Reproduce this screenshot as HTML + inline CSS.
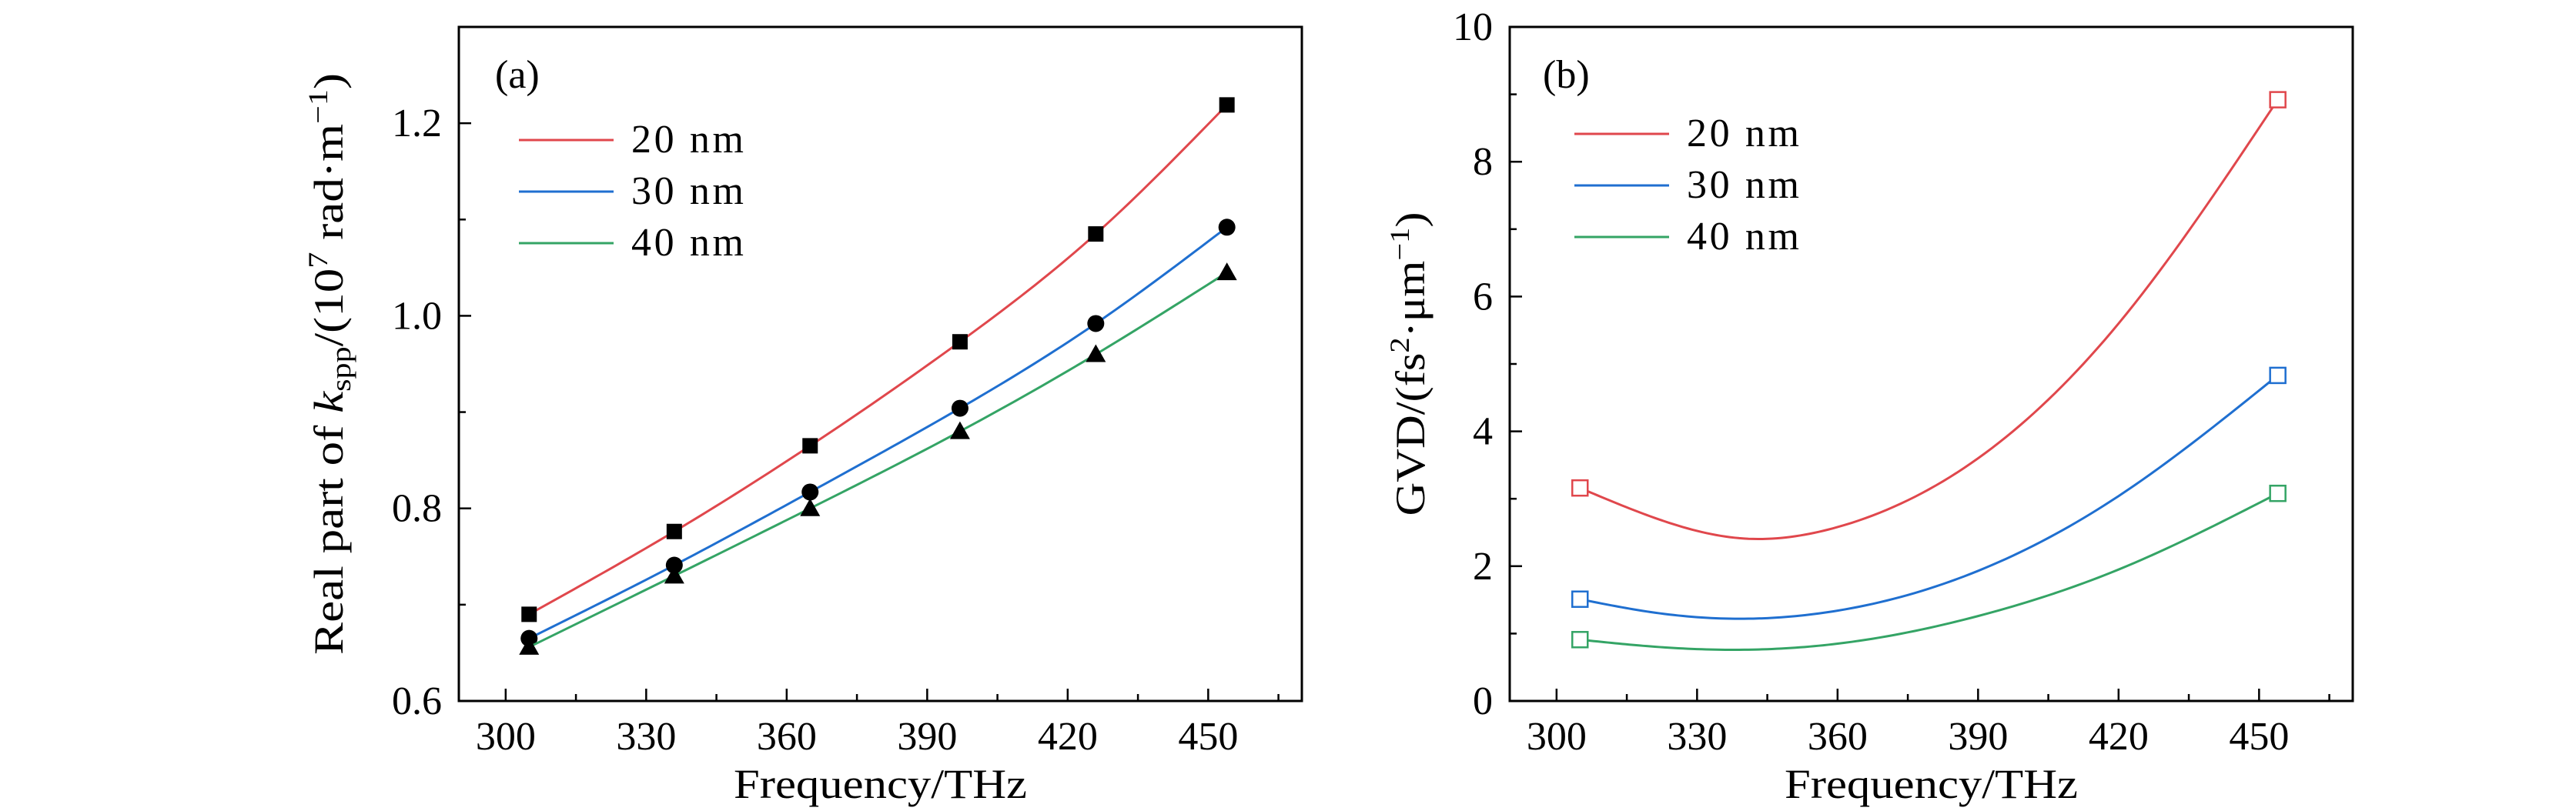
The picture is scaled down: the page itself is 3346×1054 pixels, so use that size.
<!DOCTYPE html>
<html><head><meta charset="utf-8"><style>
html,body{margin:0;padding:0;background:#fff;}
svg{display:block;font-family:"Liberation Serif",serif;}
</style></head><body>
<svg id="fig" width="3346" height="1054" viewBox="0 0 3346 1054" xmlns="http://www.w3.org/2000/svg"></svg>
<script>
const freqA = [305, 336, 365, 397, 426, 454];
const k20 = [0.690, 0.776, 0.865, 0.973, 1.085, 1.219];
const k30 = [0.665, 0.741, 0.817, 0.904, 0.992, 1.092];
const k40 = [0.656, 0.730, 0.800, 0.880, 0.960, 1.045];
const freqB = [305, 320, 340, 360, 390, 420, 454];
const g20 = [3.16, 2.74, 2.41, 2.58, 3.60, 5.60, 8.92];
const g30 = [1.51, 1.32, 1.22, 1.34, 1.93, 3.04, 4.83];
const g40 = [0.91, 0.81, 0.76, 0.85, 1.26, 1.95, 3.08];
const xTicks = [300, 330, 360, 390, 420, 450];
const yTicksA = ["0.6", "0.8", "1.0", "1.2"];
const yTicksB = ["0", "2", "4", "6", "8", "10"];
const seriesNames = ["20 nm", "30 nm", "40 nm"];
const colors = ["#e0474c", "#1f6fd0", "#34a465"];

const NS = "http://www.w3.org/2000/svg";
const svg = document.getElementById("fig");
function mk(tag, attrs, parent, text) {
  const e = document.createElementNS(NS, tag);
  for (const k in attrs) e.setAttribute(k, attrs[k]);
  if (text !== undefined) e.textContent = text;
  (parent || svg).appendChild(e);
  return e;
}
function splinePath(X, Y, xs, ys) {
  const n = X.length;
  const h = [], al = [], l = [1], mu = [0], z = [0], c = new Array(n).fill(0), b = [], d = [];
  for (let i = 0; i < n - 1; i++) h.push(X[i + 1] - X[i]);
  for (let i = 1; i < n - 1; i++) al[i] = 3 / h[i] * (Y[i + 1] - Y[i]) - 3 / h[i - 1] * (Y[i] - Y[i - 1]);
  for (let i = 1; i < n - 1; i++) {
    l[i] = 2 * (X[i + 1] - X[i - 1]) - h[i - 1] * mu[i - 1];
    mu[i] = h[i] / l[i];
    z[i] = (al[i] - h[i - 1] * z[i - 1]) / l[i];
  }
  for (let j = n - 2; j >= 1; j--) c[j] = z[j] - mu[j] * c[j + 1];
  c[0] = 0;
  for (let j = 0; j < n - 1; j++) {
    b[j] = (Y[j + 1] - Y[j]) / h[j] - h[j] * (c[j + 1] + 2 * c[j]) / 3;
    d[j] = (c[j + 1] - c[j]) / (3 * h[j]);
  }
  let dStr = "";
  for (let j = 0; j < n - 1; j++) {
    for (let s = 0; s <= 20; s++) {
      if (j > 0 && s === 0) continue;
      const t = h[j] * s / 20;
      const v = Y[j] + b[j] * t + c[j] * t * t + d[j] * t * t * t;
      dStr += (dStr ? " L" : "M") + xs(X[j] + t).toFixed(2) + "," + ys(v).toFixed(2);
    }
  }
  return dStr;
}

function panel(cfg) {
  const g = mk("g", {});
  
  
  const L = cfg.left, R = cfg.right, T = 35, B = 911;
  const xs = v => L + (v - 290) / 180 * (R - L);
  const ys = v => B - (v - cfg.ymin) / (cfg.ymax - cfg.ymin) * (B - T);
  for (let v = 300; v <= 465; v += 15) {
    const major = (v % 30 === 0);
    const t = mk("line", {x1: xs(v), x2: xs(v), y1: B, y2: B - (major ? 16 : 9), stroke: "#000", "stroke-width": 2.5}, g);
    
    
  }
  xTicks.forEach(v => {
    const t = mk("text", {x: xs(v), y: 974, "font-size": 52, "text-anchor": "middle"}, g, String(v));
    
    
  });
  for (let v = cfg.ymin; v <= cfg.ymax + 1e-9; v += cfg.minor) {
    const isMaj = Math.abs(Math.round((v - cfg.ymin) / cfg.major) * cfg.major - (v - cfg.ymin)) < 1e-6;
    const t = mk("line", {x1: L, x2: L + (isMaj ? 16 : 9), y1: ys(v), y2: ys(v), stroke: "#000", "stroke-width": 2.5}, g);
    
    
  }
  cfg.yLabels.forEach(s => {
    const t = mk("text", {x: L - 22, y: ys(parseFloat(s)) + 17, "font-size": 52, "text-anchor": "end"}, g, s);
    
    
  });
  const fr = mk("rect", {x: L, y: T, width: R - L, height: B - T, fill: "none", stroke: "#000", "stroke-width": 3}, g);
  
  
  const xt = mk("text", {x: (L + R) / 2, y: 1037, "font-size": 54, "text-anchor": "middle", textLength: 381, lengthAdjust: "spacingAndGlyphs"}, g, "Frequency/THz");
  
  
  const yt = mk("text", {x: 0, y: 0, "font-size": 54, "text-anchor": "middle", textLength: cfg.ytLen, lengthAdjust: "spacingAndGlyphs", transform: "translate(" + cfg.ytx + "," + cfg.yty + ") rotate(-90)"}, g);
  
  
  cfg.yTitle(yt);
  const pl = mk("text", {x: cfg.labelX, y: 114, "font-size": 52}, g, cfg.label);
  
  
  cfg.series.forEach((ser, i) => {
    const p = mk("path", {d: splinePath(cfg.xdata, ser, xs, ys), fill: "none", stroke: colors[i], "stroke-width": 3}, g);
    
    
    cfg.markers(g, i, xs, ys);
  });
  seriesNames.forEach((n, i) => {
    const y = cfg.legY + i * 67;
    const l = mk("line", {x1: cfg.legX, x2: cfg.legX + 123, y1: y, y2: y, stroke: colors[i], "stroke-width": 3}, g);
    
    
    const t = mk("text", {x: cfg.legX + 146, y: y + 16, "font-size": 52, textLength: 146, lengthAdjust: "spacing"}, g, n);
    
    
  });
}

panel({
  name: "panel-a", left: 596, right: 1691, ymin: 0.6, ymax: 1.3, major: 0.2, minor: 0.1,
  yLabels: yTicksA, ytx: 445, yty: 473, ytLen: 756, label: "(a)", labelX: 643, legX: 674, legY: 182,
  xdata: freqA, series: [k20, k30, k40],
  yTitle: t => {
    mk("tspan", {}, t, "Real part of ");
    mk("tspan", {"font-style": "italic"}, t, "k");
    mk("tspan", {"font-size": 36, dy: 10}, t, "spp");
    mk("tspan", {dy: -10}, t, "/(10");
    mk("tspan", {"font-size": 36, dy: -20}, t, "7");
    mk("tspan", {dy: 20}, t, " rad·m");
    mk("tspan", {"font-size": 36, dy: -20}, t, "−1");
    mk("tspan", {dy: 20}, t, ")");
  },
  markers: (g, i, xs, ys) => {
    const data = [k20, k30, k40][i];
    freqA.forEach((f, j) => {
      const x = xs(f), y = ys(data[j]);
      let m;
      if (i === 0) m = mk("rect", {x: x - 10, y: y - 10, width: 20, height: 20, fill: "#000"}, g);
      else if (i === 1) m = mk("circle", {cx: x, cy: y, r: 11, fill: "#000"}, g);
      else m = mk("polygon", {points: (x) + "," + (y - 13) + " " + (x - 13) + "," + (y + 10) + " " + (x + 13) + "," + (y + 10), fill: "#000"}, g);
      
      
    });
  }
});

panel({
  name: "panel-b", left: 1961, right: 3056, ymin: 0, ymax: 10, major: 2, minor: 1,
  yLabels: yTicksB, ytx: 1850, yty: 473, ytLen: 395, label: "(b)", labelX: 2004, legX: 2045, legY: 174,
  xdata: freqB, series: [g20, g30, g40],
  yTitle: t => {
    mk("tspan", {}, t, "GVD/(fs");
    mk("tspan", {"font-size": 36, dy: -20}, t, "2");
    mk("tspan", {dy: 20}, t, "·μm");
    mk("tspan", {"font-size": 36, dy: -20}, t, "−1");
    mk("tspan", {dy: 20}, t, ")");
  },
  markers: (g, i, xs, ys) => {
    const data = [g20, g30, g40][i];
    [0, freqB.length - 1].forEach(j => {
      const x = xs(freqB[j]), y = ys(data[j]);
      const m = mk("rect", {x: x - 10, y: y - 10, width: 20, height: 20, fill: "#fff", stroke: colors[i], "stroke-width": 2.5}, g);
      
      
    });
  }
});
</script>
</body></html>
